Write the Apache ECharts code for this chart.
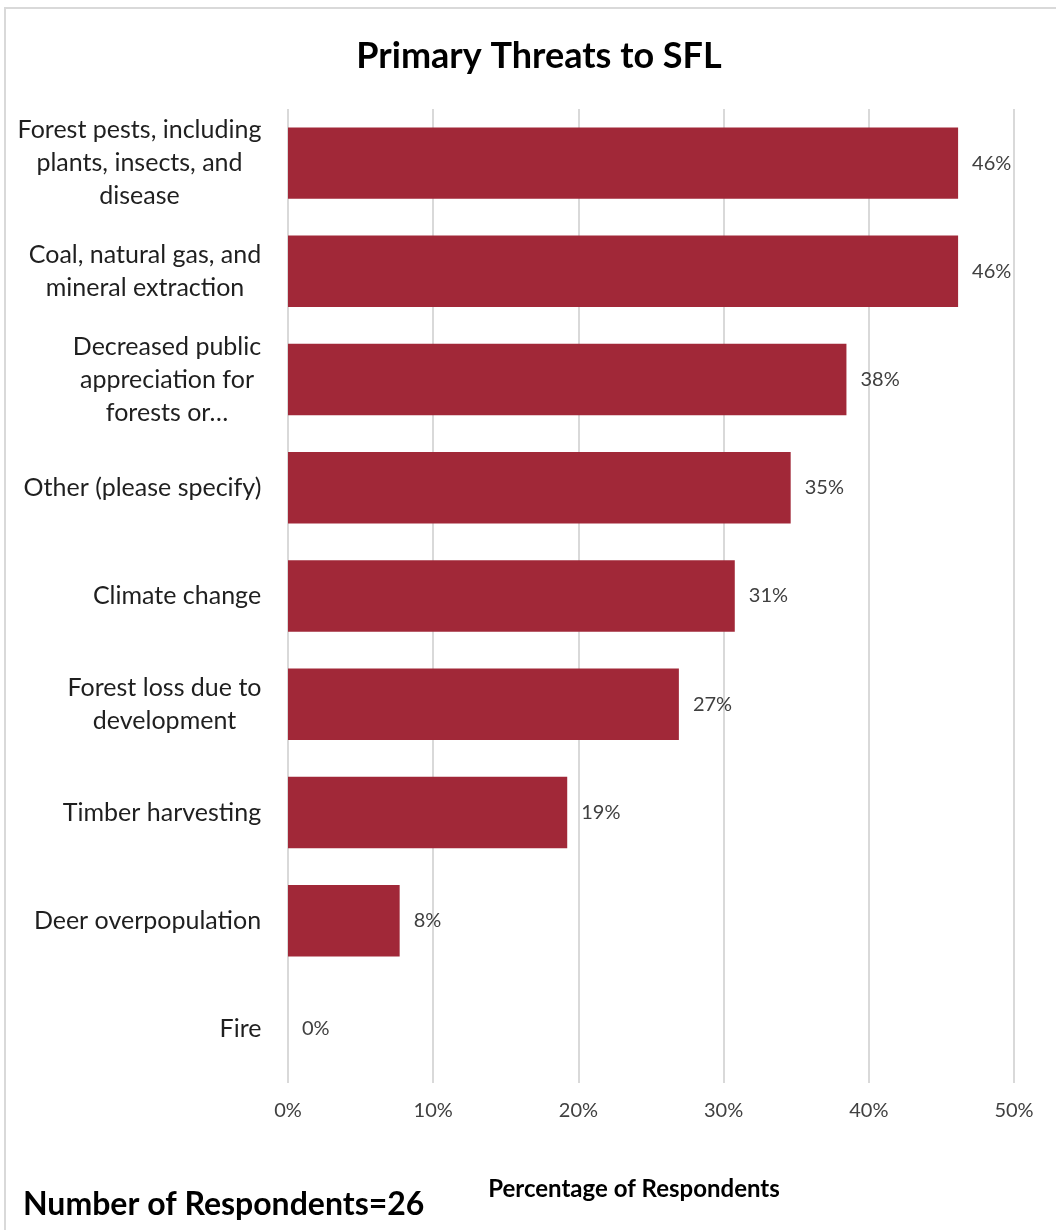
<!DOCTYPE html>
<html>
<head>
<meta charset="utf-8">
<script src="https://cdn.jsdelivr.net/npm/echarts@6/dist/echarts.min.js"></script>
<style>
  html, body { margin: 0; padding: 0; background: #ffffff; }
  #chart { position: absolute; left: 0; top: 0; width: 1056px; height: 1230px; }
  #frame { position: absolute; left: 4px; top: 7px; width: 1052px; height: 1223px;
           border-top: 2px solid #d9d9d9; border-left: 2px solid #d9d9d9; box-sizing: border-box; pointer-events: none; }
</style>
</head>
<body>
<div id="chart"></div>
<div id="frame"></div>
<script>
const titleText = "Primary Threats to SFL";
const respondentsNote = "Number of Respondents=26";
const axisTitle = "Percentage of Respondents";
const categories = [
  "Forest pests, including\nplants, insects, and\ndisease",
  "Coal, natural gas, and\nmineral extraction",
  "Decreased public\nappreciation for\nforests or\u2026",
  "Other (please specify)",
  "Climate change",
  "Forest loss due to\ndevelopment",
  "Timber harvesting",
  "Deer overpopulation",
  "Fire"
];
const percentValues = [46.15, 46.15, 38.46, 34.62, 30.77, 26.92, 19.23, 7.69, 0];
const xTicks = [0, 10, 20, 30, 40, 50];

const FONT = "Lato, 'Noto Sans', sans-serif";
const CAT_SIZE = 25;
const CAT_LH = 33;

// measure label lines so each wrapped label is right-aligned as a block with centered lines
const cv = document.createElement('canvas').getContext('2d');
cv.font = CAT_SIZE + "px Lato";
const rich = {};
categories.forEach((c, i) => {
  const w = Math.max(...c.split('\n').map(l => cv.measureText(l).width));
  rich['c' + i] = { width: Math.ceil(w) + 1, align: 'center', fontSize: CAT_SIZE, lineHeight: CAT_LH,
                    fontFamily: FONT, color: '#1f1f1f' };
});

const chart = echarts.init(document.getElementById('chart'));
chart.setOption({
  animation: false,
  backgroundColor: '#ffffff',
  title: [
    { text: titleText, left: 534, textAlign: 'center', top: 33,
      textStyle: { fontFamily: FONT, fontSize: 36, fontWeight: 'bold', color: '#000000' } },
    { text: respondentsNote, left: 18, top: 1184,
      textStyle: { fontFamily: FONT, fontSize: 32, fontWeight: 'bold', color: '#000000' } }
  ],
  grid: { left: 288, right: 42, top: 109, bottom: 147, containLabel: false },
  xAxis: {
    type: 'value', min: xTicks[0], max: xTicks[xTicks.length - 1], interval: 10,
    axisLine: { show: false }, axisTick: { show: false },
    splitLine: { show: true, lineStyle: { color: '#d9d9d9', width: 2 } },
    axisLabel: { formatter: '{value}%', fontFamily: FONT, fontSize: 20, color: '#404040', margin: 18 },
    name: axisTitle, nameLocation: 'middle', nameGap: 94,
    nameTextStyle: { fontFamily: FONT, fontSize: 24, fontWeight: 'bold', color: '#000000', padding: [0, 34, 0, 0] }
  },
  yAxis: {
    type: 'category', data: categories, inverse: true,
    axisLine: { show: false }, axisTick: { show: false }, splitLine: { show: false },
    axisLabel: {
      margin: 26, align: 'right',
      formatter: (v, i) => v.split('\n').map(l => '{c' + i + '|' + l + '}').join('\n'),
      rich: rich
    }
  },
  series: [{
    type: 'bar', data: percentValues, barCategoryGap: '34%',
    itemStyle: { color: '#A12838' },
    label: { show: true, position: 'right', distance: 14,
             formatter: p => Math.round(p.value) + '%',
             fontFamily: FONT, fontSize: 20, color: '#404040' }
  }]
});
</script>
</body>
</html>
